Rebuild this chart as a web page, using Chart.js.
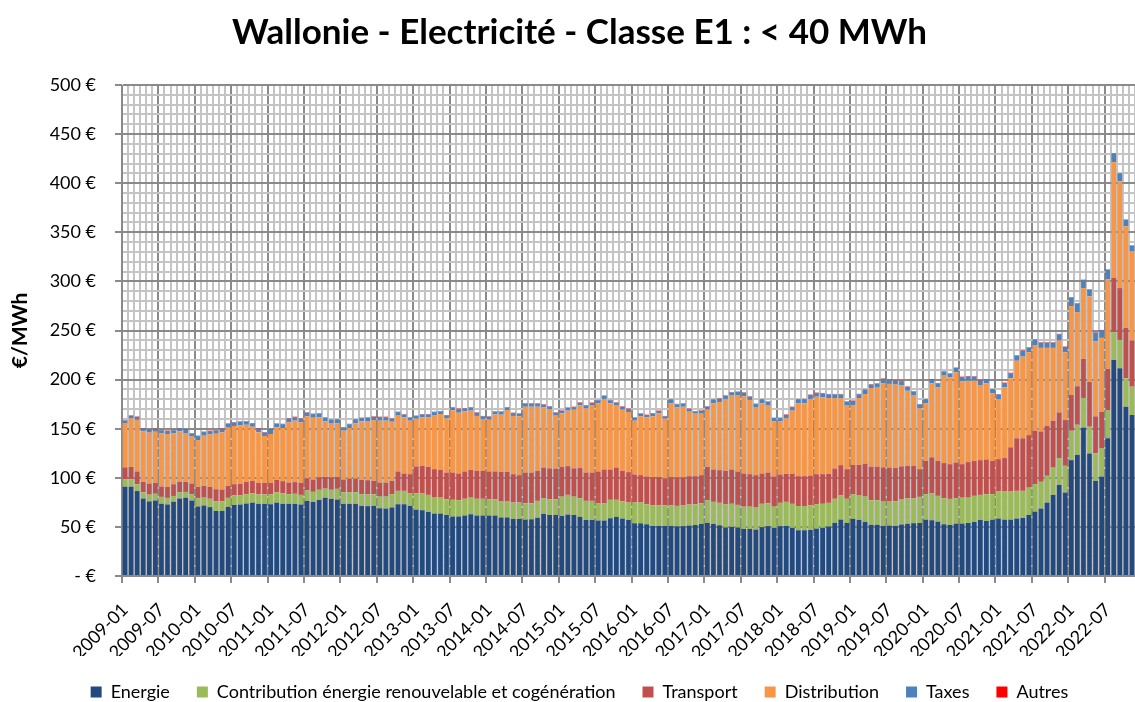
<!DOCTYPE html>
<html>
<head>
<meta charset="utf-8">
<title>Wallonie - Electricité - Classe E1</title>
<script src="https://cdn.jsdelivr.net/npm/chart.js@4.4.1/dist/chart.umd.min.js"></script>
<style>
    html, body { margin: 0; padding: 0; background: #fff; }
</style>
</head>
<body>
<canvas id="chart" width="1135" height="702"></canvas>
<script>
// €/MWh per component, one row per year (2009-01 .. 2022-11)
const energie = [
    91.0, 91.0, 86.5, 78.9, 76.0, 76.9, 73.6, 72.9, 75.7, 78.9, 79.6, 76.9,
    70.7, 71.8, 70.1, 66.3, 66.3, 70.4, 72.4, 72.8, 73.8, 74.8, 73.5, 73.5,
    73.1, 74.8, 73.5, 73.5, 73.5, 72.8, 76.5, 75.5, 77.6, 79.6, 78.6, 77.9,
    73.5, 73.5, 73.5, 71.4, 71.1, 71.4, 69.0, 68.7, 69.7, 73.1, 73.1, 71.4,
    67.6, 67.0, 65.3, 63.6, 63.6, 62.2, 60.5, 60.5, 61.6, 62.9, 61.6, 61.6,
    61.6, 61.6, 59.5, 59.5, 58.2, 58.2, 57.5, 57.8, 59.2, 63.3, 62.2, 62.2,
    61.2, 62.6, 62.2, 60.2, 57.1, 57.1, 56.5, 56.5, 58.8, 60.2, 58.5, 57.1,
    53.7, 53.7, 52.7, 51.0, 51.0, 51.0, 51.0, 50.5, 50.7, 51.4, 52.0, 53.1,
    54.1, 53.1, 51.7, 49.3, 50.0, 49.3, 48.0, 48.0, 47.3, 49.7, 50.7, 49.0,
    50.7, 51.0, 49.0, 46.6, 46.6, 47.0, 48.3, 49.0, 50.3, 54.1, 57.5, 54.1,
    58.3, 57.2, 55.1, 52.2, 52.2, 51.0, 51.4, 51.0, 52.5, 53.3, 53.8, 54.0,
    57.4, 56.8, 55.4, 52.7, 52.0, 53.4, 53.4, 54.0, 55.1, 57.1, 56.1, 57.4,
    58.5, 57.4, 57.4, 58.5, 59.1, 62.2, 65.6, 68.7, 74.8, 82.6, 92.8, 85.0,
    118.0, 123.4, 151.3, 124.8, 96.9, 101.3, 140.4, 220.0, 211.5, 172.4, 163.9
];
const contribution = [
    7.3, 7.5, 7.0, 6.3, 6.8, 6.8, 7.0, 6.7, 5.8, 6.5, 6.0, 6.4,
    8.6, 8.2, 8.5, 9.9, 9.9, 9.2, 9.6, 9.5, 9.5, 9.6, 9.5, 9.5,
    9.9, 10.6, 10.9, 9.8, 10.2, 9.8, 10.6, 10.2, 10.2, 9.5, 9.2, 10.9,
    11.9, 11.5, 11.9, 11.9, 11.9, 11.9, 12.0, 12.3, 13.6, 13.6, 13.6, 13.0,
    16.8, 17.0, 17.3, 16.4, 16.4, 16.0, 17.1, 16.7, 17.0, 17.1, 17.0, 17.0,
    16.4, 16.4, 16.3, 16.3, 16.6, 16.6, 16.6, 16.3, 17.3, 15.6, 16.0, 16.0,
    19.7, 20.0, 18.7, 19.1, 19.4, 19.4, 17.3, 17.3, 18.8, 17.4, 17.7, 17.7,
    21.1, 21.1, 20.4, 21.1, 21.1, 21.1, 21.2, 20.9, 21.1, 21.4, 21.1, 21.0,
    22.8, 22.4, 22.8, 23.5, 23.5, 23.1, 22.7, 22.7, 22.8, 23.8, 23.4, 21.7,
    23.8, 24.5, 24.5, 24.5, 24.5, 25.1, 24.8, 24.5, 24.2, 24.5, 24.5, 24.5,
    24.7, 25.3, 26.0, 24.9, 24.9, 25.4, 25.0, 25.2, 25.9, 25.6, 25.1, 26.6,
    25.9, 27.2, 26.2, 26.5, 26.5, 25.8, 26.5, 25.9, 26.5, 25.5, 27.2, 25.9,
    27.5, 28.6, 28.6, 28.2, 27.6, 27.9, 27.9, 27.2, 27.2, 27.9, 27.2, 27.2,
    29.9, 30.6, 30.0, 27.2, 28.2, 28.6, 28.6, 28.3, 28.9, 28.9, 28.9
];
const transport = [
    12.2, 12.5, 13.0, 10.7, 11.4, 11.2, 10.6, 11.0, 12.0, 10.5, 10.3, 10.9,
    11.5, 11.8, 12.2, 12.2, 11.9, 12.2, 11.5, 11.6, 12.6, 12.6, 11.9, 11.9,
    11.9, 12.6, 12.2, 11.9, 11.9, 12.3, 12.2, 12.6, 12.6, 11.9, 12.6, 11.9,
    12.9, 14.0, 13.6, 14.7, 14.6, 13.7, 14.2, 14.2, 13.7, 19.8, 17.7, 19.3,
    27.2, 28.2, 28.6, 28.8, 28.1, 27.2, 27.8, 27.2, 27.9, 28.1, 28.5, 28.5,
    28.5, 28.5, 30.3, 30.3, 28.9, 27.9, 31.3, 31.3, 30.6, 31.3, 31.3, 31.0,
    30.3, 29.3, 28.6, 30.6, 28.9, 28.9, 32.7, 34.7, 30.9, 32.6, 30.9, 31.0,
    28.6, 27.9, 28.3, 28.6, 28.6, 27.2, 28.8, 29.0, 28.6, 28.9, 28.6, 28.6,
    34.3, 33.0, 33.3, 34.3, 35.0, 34.1, 33.7, 33.0, 32.6, 30.9, 31.3, 30.7,
    28.9, 28.6, 30.6, 30.6, 30.6, 30.3, 30.6, 30.2, 29.6, 30.6, 30.9, 30.2,
    30.2, 30.7, 33.4, 34.3, 34.3, 34.1, 33.8, 33.7, 33.3, 33.1, 33.1, 28.2,
    34.0, 36.7, 35.7, 35.8, 35.4, 36.4, 34.0, 36.1, 35.7, 35.4, 35.4, 34.0,
    33.0, 34.1, 44.9, 53.4, 53.4, 53.4, 54.4, 51.3, 51.0, 47.6, 46.6, 46.6,
    36.4, 39.2, 39.7, 45.9, 37.5, 37.4, 41.9, 55.4, 52.8, 51.4, 47.0
];
const distribution = [
    44.7, 49.5, 52.5, 51.4, 51.8, 52.0, 54.2, 54.0, 51.9, 51.4, 49.7, 47.8,
    47.6, 51.1, 53.4, 56.5, 58.2, 59.2, 59.2, 59.5, 58.1, 55.0, 51.4, 47.7,
    49.7, 53.4, 54.1, 61.3, 62.6, 61.6, 63.3, 62.9, 61.2, 56.5, 55.4, 54.7,
    49.7, 51.7, 56.4, 59.5, 60.2, 61.8, 63.0, 63.0, 60.1, 56.8, 57.2, 54.5,
    48.6, 49.4, 50.4, 55.1, 56.8, 55.2, 63.3, 61.9, 61.2, 60.3, 55.9, 52.4,
    52.7, 58.1, 58.2, 62.9, 59.3, 59.9, 67.0, 67.0, 65.3, 61.5, 60.2, 54.1,
    54.5, 56.5, 59.9, 63.9, 65.3, 68.1, 69.4, 71.8, 67.4, 63.3, 62.3, 61.2,
    54.8, 59.9, 60.2, 61.9, 65.0, 60.9, 74.9, 71.3, 72.0, 65.6, 63.6, 62.6,
    58.2, 67.4, 69.4, 73.2, 75.2, 77.2, 78.6, 75.6, 69.4, 71.5, 68.1, 56.1,
    54.1, 56.5, 64.3, 74.2, 74.2, 77.9, 78.9, 78.3, 76.9, 71.8, 68.1, 64.7,
    60.9, 68.0, 70.8, 79.9, 81.1, 85.9, 85.4, 85.0, 82.7, 76.6, 71.7, 61.9,
    58.5, 75.5, 74.8, 89.0, 88.4, 91.8, 84.4, 82.9, 81.6, 76.5, 77.5, 68.7,
    61.2, 72.0, 70.4, 79.2, 83.3, 84.4, 86.8, 85.1, 79.3, 74.2, 73.2, 69.1,
    90.5, 75.5, 72.2, 86.8, 76.5, 75.2, 91.1, 117.7, 108.8, 103.3, 90.8
];
const taxes = [
    3.1, 2.7, 3.0, 3.0, 3.2, 2.7, 3.0, 3.2, 3.0, 3.0, 3.2, 3.1,
    4.1, 3.7, 3.4, 3.3, 3.3, 4.0, 3.7, 3.7, 3.4, 3.4, 3.6, 3.6,
    4.3, 3.6, 3.9, 4.0, 3.6, 3.7, 3.7, 3.7, 3.9, 3.7, 3.0, 3.7,
    3.3, 3.9, 3.7, 3.3, 3.4, 3.4, 3.6, 3.6, 3.1, 3.6, 2.8, 3.0,
    2.7, 3.0, 3.0, 3.0, 2.7, 3.0, 2.9, 3.7, 2.9, 3.2, 3.3, 3.1,
    3.0, 2.7, 3.0, 2.6, 2.9, 2.7, 3.2, 3.2, 3.2, 2.9, 2.9, 3.0,
    2.6, 2.9, 2.6, 2.7, 2.9, 2.7, 3.0, 3.0, 3.0, 3.0, 3.0, 3.0,
    3.0, 2.7, 2.3, 2.9, 2.3, 2.4, 3.7, 3.2, 3.1, 2.7, 2.3, 3.0,
    3.0, 3.3, 3.3, 3.3, 3.3, 3.7, 3.7, 3.3, 3.0, 3.7, 4.0, 3.3,
    3.3, 3.6, 3.6, 3.7, 4.0, 4.0, 3.7, 4.0, 4.0, 4.0, 4.0, 4.0,
    4.2, 3.9, 4.1, 3.7, 3.3, 4.4, 3.8, 4.0, 4.0, 4.1, 4.1, 4.0,
    4.0, 3.7, 4.1, 4.1, 3.7, 4.4, 4.3, 4.4, 4.2, 4.1, 4.0, 4.0,
    4.7, 4.4, 5.3, 5.1, 5.8, 4.7, 5.7, 5.4, 5.4, 5.4, 6.4, 5.3,
    8.8, 8.8, 8.1, 7.0, 8.8, 7.7, 9.8, 8.8, 7.6, 6.6, 5.7
];
const autres = [
    0.4, 0.4, 0.4, 0.4, 0.4, 0.4, 0.4, 0.4, 0.4, 0.4, 0.4, 0.4,
    0.4, 0.4, 0.4, 0.4, 0.4, 0.4, 0.4, 0.4, 0.4, 0.4, 0.4, 0.4,
    0.4, 0.4, 0.4, 0.4, 0.4, 0.4, 0.4, 0.4, 0.4, 0.4, 0.4, 0.4,
    0.4, 0.4, 0.4, 0.4, 0.4, 0.4, 0.4, 0.4, 0.4, 0.4, 0.4, 0.4,
    0.4, 0.4, 0.4, 0.4, 0.4, 0.4, 0.4, 0.4, 0.4, 0.4, 0.4, 0.4,
    0.4, 0.4, 0.4, 0.4, 0.4, 0.4, 0.4, 0.4, 0.4, 0.4, 0.4, 0.4,
    0.4, 0.4, 0.4, 0.4, 0.4, 0.4, 0.4, 0.4, 0.4, 0.4, 0.4, 0.4,
    0.4, 0.4, 0.4, 0.4, 0.4, 0.4, 0.4, 0.4, 0.4, 0.4, 0.4, 0.4,
    0.4, 0.4, 0.4, 0.4, 0.4, 0.4, 0.4, 0.4, 0.4, 0.4, 0.4, 0.4,
    0.4, 0.4, 0.4, 0.4, 0.4, 0.4, 0.4, 0.4, 0.4, 0.4, 0.4, 0.4,
    0.4, 0.4, 0.4, 0.4, 0.4, 0.4, 0.4, 0.4, 0.4, 0.4, 0.4, 0.4,
    0.4, 0.4, 0.4, 0.4, 0.4, 0.4, 0.4, 0.4, 0.4, 0.4, 0.4, 0.4,
    0.4, 0.4, 0.4, 0.4, 0.4, 0.4, 0.4, 0.4, 0.4, 0.4, 0.4, 0.4,
    0.4, 0.4, 0.4, 0.4, 0.4, 0.4, 0.4, 0.4, 0.4, 0.4, 0.4
];

const seriesNames = ["Energie", "Contribution énergie renouvelable et cogénération",
    "Transport", "Distribution", "Taxes", "Autres"];
const seriesColors = ["#234a7e", "#9bbb59", "#c0504d", "#f79646", "#4f81bd", "#ff0000"];

// month labels YYYY-MM, one per bar
const months = [];
for (let y = 2009; months.length < energie.length; y++) {
    for (let m = 1; m <= 12 && months.length < energie.length; m++) {
        months.push(y + "-" + String(m).padStart(2, "0"));
    }
}

const MAJOR = "#8a8a8a";
const MINOR = "#c4c4c4";
const LEFT_PAD = 24;   // shifts title + legend centre a bit to the right

Chart.defaults.font.family = "Lato, 'Open Sans', sans-serif";
Chart.defaults.color = "#000";

const values = [energie, contribution, transport, distribution, taxes, autres];
const datasets = values.map((data, i) => ({
    label: seriesNames[i],
    data: data,
    backgroundColor: seriesColors[i],
    borderWidth: 0,
    barPercentage: 0.78,
    categoryPercentage: 1.0
}));

new Chart(document.getElementById("chart"), {
    type: "bar",
    data: { labels: months, datasets: datasets },
    options: {
        responsive: false,
        animation: false,
        layout: { padding: { left: LEFT_PAD, right: 0, top: 0, bottom: -9 } },
        plugins: {
            title: {
                display: true,
                text: "Wallonie - Electricité - Classe E1 : < 40 MWh",
                color: "#000",
                font: { size: 35, weight: "bold" },
                padding: { top: 12, bottom: 31 }
            },
            legend: {
                position: "bottom",
                labels: { boxWidth: 11, boxHeight: 11, padding: 27, color: "#000", font: { size: 18 } }
            },
            tooltip: { enabled: false }
        },
        scales: {
            x: {
                stacked: true,
                grid: {
                    offset: true,
                    lineWidth: 2,
                    tickLength: 7,
                    color: ctx => (ctx.index % 6 === 0 ? MAJOR : MINOR),
                    tickColor: ctx => (ctx.index % 6 === 0 ? MAJOR : "rgba(0,0,0,0)")
                },
                border: { color: MAJOR, width: 1 },
                ticks: {
                    autoSkip: false,
                    minRotation: 45,
                    maxRotation: 45,
                    padding: 16,
                    color: "#000",
                    font: { size: 18 },
                    callback: (v, i) => (i % 6 === 0 ? months[i] : "")
                },
                afterFit: s => {
                    s.height = 80;
                    s.paddingLeft = 0;
                    s.paddingRight = 0;
                }
            },
            y: {
                stacked: true,
                min: 0,
                max: 500,
                grid: {
                    lineWidth: 2,
                    tickLength: 7,
                    color: ctx => (ctx.tick && ctx.tick.value % 50 === 0 ? MAJOR : MINOR),
                    tickColor: ctx => (ctx.tick && ctx.tick.value % 50 === 0 ? MAJOR : "rgba(0,0,0,0)")
                },
                border: { color: MAJOR, width: 1 },
                ticks: {
                    stepSize: 10,
                    autoSkip: false,
                    padding: 19,
                    color: "#000",
                    font: { size: 18 },
                    callback: v => (v % 50 !== 0 ? "" : v === 0 ? "- €" : v + " €")
                },
                title: {
                    display: true,
                    text: "€/MWh",
                    color: "#000",
                    font: { size: 21, weight: "bold" },
                    padding: { top: 8 - LEFT_PAD, bottom: 0 }
                },
                afterFit: s => { s.width = 122 - LEFT_PAD; }
            }
        }
    }
});
</script>
</body>
</html>
